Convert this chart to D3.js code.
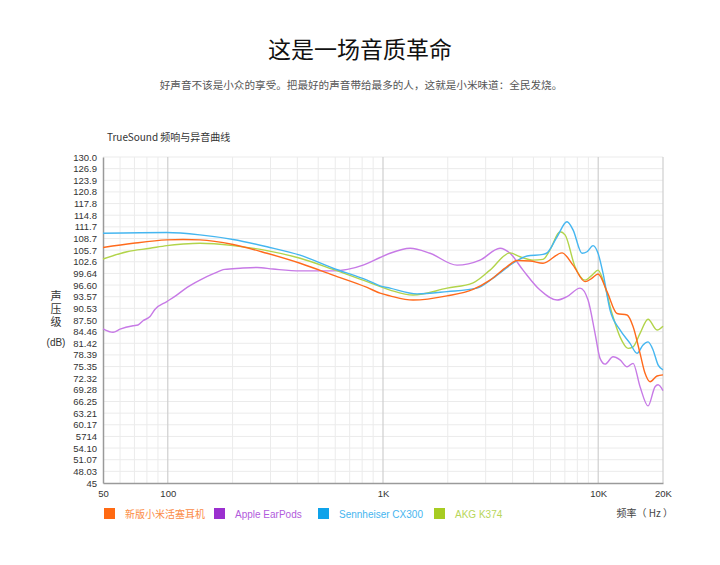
<!DOCTYPE html>
<html>
<head>
<meta charset="utf-8">
<script src="https://cdn.jsdelivr.net/npm/d3@7/dist/d3.min.js"></script>
<style>
  html, body { margin: 0; padding: 0; background: #fff; }
  svg { display: block; }
  .cjk { font-family: "Noto Sans CJK SC", "Noto Sans", sans-serif; }
  .lat { font-family: "Liberation Sans", Arial, Helvetica, sans-serif; }
</style>
</head>
<body>
<div id="chart"></div>
<script>
// ---- data (freq Hz, dB) ----
const seriesNames = ['新版小米活塞耳机', 'Apple EarPods', 'Sennheiser CX300', 'AKG K374'];

const xiaomi = [
  [50, 106.4], [69, 107.5], [99, 108.4], [118, 108.5], [141, 108.4], [201, 107.2],
  [289, 104.9], [412, 102.3], [586, 99.2], [843, 96.0], [969, 94.5], [1078, 93.8],
  [1379, 92.7], [1984, 93.8], [2621, 95.5], [3142, 97.9], [3771, 101.4], [4196, 103.0],
  [4820, 102.9], [5540, 102.3], [6790, 105.0], [7638, 101.8], [8686, 97.5], [9363, 98.4],
  [9981, 99.5], [10990, 94.9], [12232, 89.2], [13615, 88.8], [14517, 85.8], [15647, 78.8],
  [16507, 73.6], [17414, 71.4], [18767, 72.9], [20000, 73.2]
];

const earpods = [
  [50, 85.2], [55.7, 84.3], [60, 85.1], [69, 86.0], [72.7, 86.2], [76.7, 87.3],
  [82.7, 88.4], [87.3, 90.3], [99, 92.3], [110, 94.0], [123, 96.0], [141, 97.9],
  [162, 99.5], [184, 100.7], [217, 101.0], [260, 101.2], [308, 100.8], [412, 100.3],
  [586, 100.3], [808, 101.8], [969, 103.8], [1078, 104.9], [1336, 106.2], [1654, 104.9],
  [2208, 101.8], [2824, 103.1], [3498, 106.2], [3893, 104.9], [4473, 100.5], [5366, 95.3],
  [6440, 92.7], [7162, 93.6], [8233, 95.8], [8969, 92.7], [9666, 84.0], [10196, 77.5],
  [10756, 76.0], [11718, 77.9], [12628, 77.1], [13615, 75.3], [14517, 76.2], [15647, 70.1],
  [17043, 65.1], [18370, 70.1], [18967, 70.6], [20000, 69.1]
];

const cx300 = [
  [50, 110.1], [99, 110.3], [141, 109.7], [201, 108.5], [289, 106.6], [412, 104.4],
  [586, 101.0], [843, 97.9], [969, 96.4], [1078, 95.8], [1439, 94.3], [1984, 94.9],
  [2735, 95.8], [3245, 98.4], [4020, 102.3], [4670, 104.2], [5540, 104.6], [5783, 105.0],
  [6440, 109.2], [7162, 113.1], [7638, 111.0], [8411, 104.9], [8874, 105.3], [9462, 106.9],
  [9981, 104.9], [10528, 99.7], [11350, 90.1], [12628, 84.9], [14058, 81.4], [15152, 78.8],
  [16156, 81.0], [17043, 81.8], [17982, 79.7], [18967, 75.8], [20000, 74.5]
];

const k374 = [
  [50, 103.4], [64.7, 105.3], [82.7, 106.2], [99, 106.9], [118, 107.3], [141, 107.5],
  [201, 106.9], [289, 105.6], [412, 103.6], [586, 100.7], [843, 97.5], [1078, 95.3],
  [1379, 94.0], [1984, 95.8], [2621, 97.2], [3142, 100.5], [3893, 105.0], [4332, 104.0],
  [4978, 103.1], [5540, 103.3], [5973, 105.8], [6647, 110.5], [7013, 109.7], [7803, 101.4],
  [8686, 97.9], [9363, 99.2], [9981, 100.5], [10528, 97.9], [11593, 89.2], [12628, 83.1],
  [13762, 80.1], [14517, 80.5], [15647, 84.0], [17043, 87.7], [18767, 84.9], [20000, 85.9]
];

// y tick labels, bottom to top (the "5714" is as printed in the original)
const yTickLabels = ['45', '48.03', '51.07', '54.10', '5714', '60.17', '63.21', '66.25',
  '69.28', '72.32', '75.35', '78.39', '81.42', '84.46', '87.50', '90.53', '93.57', '96.60',
  '99.64', '102.6', '105.7', '108.7', '111.7', '114.8', '117.8', '120.8', '123.9', '126.9', '130.0'];

const xTickValues = [50, 100, 1000, 10000, 20000];
const xTickLabels = ['50', '100', '1K', '10K', '20K'];
const xMinorGrid = [60, 70, 80, 90, 200, 300, 400, 500, 600, 700, 800, 900,
  2000, 3000, 4000, 5000, 6000, 7000, 8000, 9000];
const xMajorGrid = [100, 1000, 10000, 20000];

const lineColors = ['#ff6a1c', '#c77ae6', '#45b6f0', '#b2d44a'];
const swatchColors = ['#ff6a13', '#9b30cf', '#0fa3ea', '#a7cc22'];
const textColors = ['#fb8b45', '#b15bdc', '#46b5ef', '#b8d65a'];

// ---- layout ----
const width = 720, height = 565;
const plotLeft = 103, plotRight = 663, plotTop = 157, plotBottom = 483;

const svg = d3.select('#chart').append('svg')
  .attr('width', width)
  .attr('height', height);

const x = d3.scaleLog().domain([50, 20000]).range([plotLeft, plotRight]);
const yMin = 45, yMax = 130;
const y = d3.scaleLinear().domain([yMin, yMax]).range([plotBottom, plotTop]);
const yTickValues = yTickLabels.map((d, i) => yMin + i * (yMax - yMin) / (yTickLabels.length - 1));

// titles
svg.append('text')
  .attr('class', 'cjk')
  .attr('x', width / 2).attr('y', 58)
  .attr('text-anchor', 'middle')
  .style('font-size', '23px')
  .style('fill', '#111')
  .text('这是一场音质革命');

svg.append('text')
  .attr('class', 'cjk')
  .attr('x', width / 2 + 1).attr('y', 89)
  .attr('text-anchor', 'middle')
  .style('font-size', '10.6px')
  .style('fill', '#555')
  .text('好声音不该是小众的享受。把最好的声音带给最多的人，这就是小米味道：全民发烧。');

svg.append('text')
  .attr('class', 'cjk')
  .attr('x', 107).attr('y', 141)
  .style('font-size', '10px')
  .style('fill', '#333')
  .text('TrueSound 频响与异音曲线');

// grid
const grid = svg.append('g');
grid.selectAll('line.h')
  .data(yTickValues.slice(1))
  .join('line')
  .attr('x1', plotLeft).attr('x2', plotRight)
  .attr('y1', d => y(d)).attr('y2', d => y(d))
  .style('stroke', '#ebebeb').style('stroke-width', 1);

grid.selectAll('line.vmin')
  .data(xMinorGrid)
  .join('line')
  .attr('x1', d => x(d)).attr('x2', d => x(d))
  .attr('y1', plotTop).attr('y2', plotBottom)
  .style('stroke', '#ebebeb').style('stroke-width', 1);

grid.selectAll('line.vmaj')
  .data(xMajorGrid)
  .join('line')
  .attr('x1', d => x(d)).attr('x2', d => x(d))
  .attr('y1', plotTop).attr('y2', plotBottom)
  .style('stroke', '#cfcfcf').style('stroke-width', 1.2);

// axes
const yAxis = d3.axisLeft(y)
  .tickValues(yTickValues)
  .tickFormat((d, i) => yTickLabels[i])
  .tickSize(0)
  .tickPadding(6);

const yBar = svg.append('g')
  .attr('transform', `translate(${plotLeft},0)`)
  .call(yAxis);
yBar.select('.domain').style('stroke', '#9a9a9a').style('stroke-width', 1.5);
yBar.selectAll('text')
  .attr('class', 'lat')
  .style('font-size', '9.5px')
  .style('fill', '#333');

const xAxis = d3.axisBottom(x)
  .tickValues(xTickValues)
  .tickFormat((d, i) => xTickLabels[i])
  .tickSize(0)
  .tickPadding(7);

const xBar = svg.append('g')
  .attr('transform', `translate(0,${plotBottom})`)
  .call(xAxis);
xBar.select('.domain').style('stroke', '#9a9a9a').style('stroke-width', 1.5);
xBar.selectAll('text')
  .attr('class', 'lat')
  .style('font-size', '9.5px')
  .style('fill', '#333');

// y label, written vertically as one text
svg.append('text')
  .attr('class', 'cjk')
  .attr('x', 56).attr('y', 290)
  .style('writing-mode', 'vertical-rl')
  .style('text-orientation', 'upright')
  .style('letter-spacing', '2px')
  .style('font-size', '11px')
  .style('fill', '#333')
  .text('声压级');

svg.append('text')
  .attr('class', 'lat')
  .attr('x', 56).attr('y', 346)
  .attr('text-anchor', 'middle')
  .style('font-size', '10px')
  .style('fill', '#333')
  .text('(dB)');

// lines
const line = d3.line()
  .x(d => x(d[0]))
  .y(d => y(d[1]))
  .curve(d3.curveMonotoneX);

const allSeries = [xiaomi, earpods, cx300, k374];
const drawOrder = [1, 3, 2, 0];
svg.append('g')
  .selectAll('path')
  .data(drawOrder)
  .join('path')
  .attr('d', i => line(allSeries[i]))
  .style('fill', 'none')
  .style('stroke', i => lineColors[i])
  .style('stroke-width', 1.4);

// legend
const legendX = [104, 214, 318, 434];
const legend = svg.append('g')
  .selectAll('g')
  .data(seriesNames)
  .join('g')
  .attr('transform', (d, i) => `translate(${legendX[i]},508)`);

legend.append('rect')
  .attr('width', 11).attr('height', 11)
  .style('fill', (d, i) => swatchColors[i]);

legend.append('text')
  .attr('class', (d, i) => i === 0 ? 'cjk' : 'lat')
  .attr('x', 21).attr('y', 9.5)
  .style('font-size', '10px')
  .style('fill', (d, i) => textColors[i])
  .text(d => d);

svg.append('text')
  .attr('class', 'cjk')
  .attr('x', 673).attr('y', 517)
  .attr('text-anchor', 'end')
  .style('font-size', '10px')
  .style('fill', '#444')
  .text('频率（ Hz ）');
</script>
</body>
</html>
